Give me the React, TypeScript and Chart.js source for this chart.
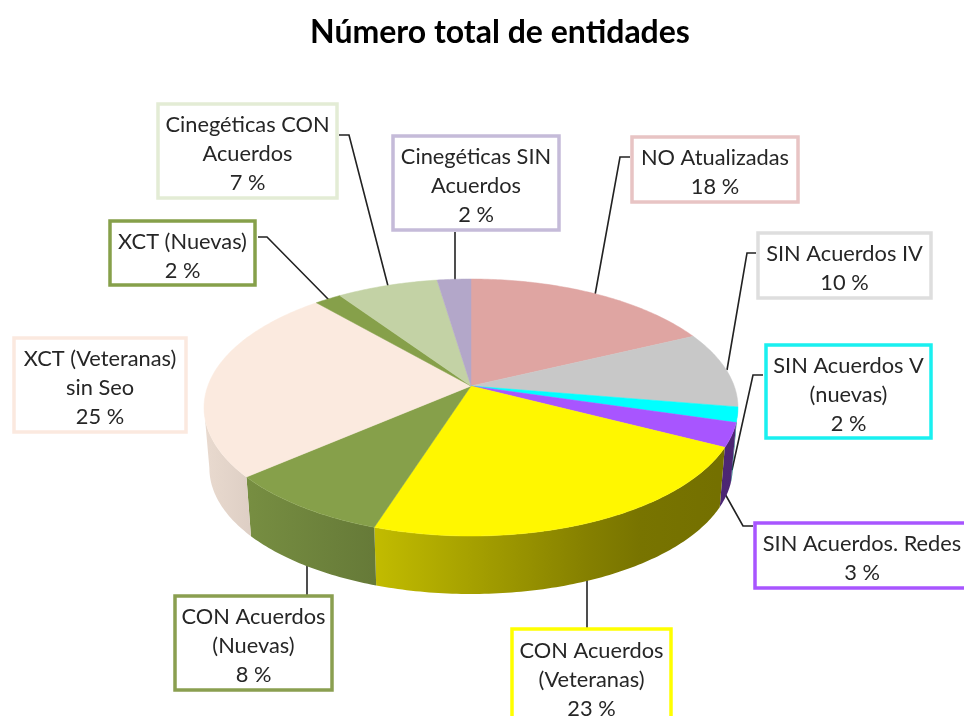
import { useEffect, useRef } from "react";
import { Chart, registerables } from "chart.js";

Chart.register(...registerables);

// ---- data ----
const titleText = "Número total de entidades";
const categories = [
  "NO Atualizadas",
  "SIN Acuerdos IV",
  "SIN Acuerdos V (nuevas)",
  "SIN Acuerdos. Redes",
  "CON Acuerdos (Veteranas)",
  "CON Acuerdos (Nuevas)",
  "XCT (Veteranas) sin Seo",
  "XCT (Nuevas)",
  "Cinegéticas CON Acuerdos",
  "Cinegéticas SIN Acuerdos",
];
const shares = [18, 9.6, 1.9, 3, 22.5, 8.75, 24.75, 1.9, 7.2, 2.4];
const percentLabels = ["18 %", "10 %", "2 %", "3 %", "23 %", "8 %", "25 %", "2 %", "7 %", "2 %"];
const labelLines = [
  ["NO Atualizadas"],
  ["SIN Acuerdos IV"],
  ["SIN Acuerdos V", "(nuevas)"],
  ["SIN Acuerdos. Redes"],
  ["CON Acuerdos", "(Veteranas)"],
  ["CON Acuerdos", "(Nuevas)"],
  ["XCT (Veteranas)", "sin Seo"],
  ["XCT (Nuevas)"],
  ["Cinegéticas CON", "Acuerdos"],
  ["Cinegéticas SIN", "Acuerdos"],
];

// ---- styles and layout ----
const faceColors = ["#dfa5a2", "#c8c8c8", "#00ffff", "#a855ff", "#fff700", "#86a04a", "#fbeadf", "#86a04a", "#c3d2a5", "#b3a7c9"];
const boxBorders = ["#e8c4c4", "#dedede", "#19f0f0", "#a855ff", "#ffff00", "#8a9f50", "#fbe9df", "#86a04a", "#e3ecd5", "#c5bbd9"];
// x, y, width, height
const boxRects = [
  [632, 137, 166, 65],
  [758, 233, 173, 65],
  [766, 345, 165, 93],
  [755, 523, 215, 65],
  [512, 629, 159, 96],
  [175, 596, 157, 94],
  [14, 338, 172, 94],
  [110, 221, 145, 64],
  [158, 104, 179, 94],
  [393, 136, 166, 94],
];
const leaders = [
  [[630, 157], [620, 157], [595, 295]],
  [[756, 253], [747, 253], [727, 370]],
  [[763, 375], [753, 375], [732, 470]],
  [[753, 526], [743, 526], [724, 492]],
  [[587, 578], [587, 628]],
  [[307, 560], [307, 595]],
  [[187, 0], [187, 0]],
  [[258, 237], [267, 237], [329, 300]],
  [[339, 135], [349, 135], [388, 286]],
  [[455, 232], [455, 281]],
];
const noLeader = 6;
const cx = 471;
const cy = 386;
const semiX = 263.2;
const semiY = 124.9;
const persp = 0.1674;
const wallDrop = 61;
const wallScale = 0.98;
const shadeStops = [
  [204, 0.93],
  [253, 0.88],
  [374, 0.76],
  [470, 0.65],
  [587, 0.52],
  [640, 0.47],
  [738, 0.45],
];

function topPoint(a: number) {
  const px = Math.cos(a);
  const py = Math.sin(a);
  const w = 1 - persp * py;
  return [cx + (semiX * px) / w, cy + (semiY * py) / w];
}
function bottomPoint(a: number) {
  const [x, y] = topPoint(a);
  return [cx + (x - cx) * wallScale, cy + wallDrop + (y - cy) * wallScale];
}
function arcSamples(a0: number, a1: number) {
  const n = Math.max(2, Math.ceil((a1 - a0) / 0.015));
  const out: number[] = [];
  for (let i = 0; i <= n; i++) out.push(a0 + ((a1 - a0) * i) / n);
  return out;
}
function shade(hex: string, f: number) {
  const v = parseInt(hex.slice(1), 16);
  const r = Math.round(((v >> 16) & 255) * f);
  const g = Math.round(((v >> 8) & 255) * f);
  const b = Math.round((v & 255) * f);
  return `rgb(${r},${g},${b})`;
}

const pie3d = {
  id: "pie3d",
  beforeDatasetsDraw(chart: any) {
    const ctx = chart.ctx as CanvasRenderingContext2D;
    const arcs = chart.getDatasetMeta(0).data;
    ctx.save();

    // leader lines
    ctx.strokeStyle = "#222222";
    ctx.lineWidth = 1.6;
    leaders.forEach((pts, i) => {
      if (i === noLeader) return;
      ctx.beginPath();
      pts.forEach((p, k) => (k ? ctx.lineTo(p[0], p[1]) : ctx.moveTo(p[0], p[1])));
      ctx.stroke();
    });

    // outer walls: only the part of each slice between the two silhouette tangents
    const frontStart = Math.asin(persp);
    const frontEnd = Math.PI - frontStart;
    arcs.forEach((arc: any, i: number) => {
      const a0 = Math.max(arc.startAngle, frontStart);
      const a1 = Math.min(arc.endAngle, frontEnd);
      if (a1 <= a0) return;
      const grad = ctx.createLinearGradient(204, 0, 738, 0);
      shadeStops.forEach(([x, f]) => grad.addColorStop((x - 204) / 534, shade(faceColors[i], f)));
      const s = arcSamples(a0, a1);
      ctx.beginPath();
      s.forEach((a, k) => {
        const p = topPoint(a);
        if (k) ctx.lineTo(p[0], p[1]);
        else ctx.moveTo(p[0], p[1]);
      });
      s.slice().reverse().forEach((a) => {
        const p = bottomPoint(a);
        ctx.lineTo(p[0], p[1]);
      });
      ctx.closePath();
      ctx.fillStyle = grad;
      ctx.fill();
    });

    // top faces
    arcs.forEach((arc: any, i: number) => {
      ctx.beginPath();
      ctx.moveTo(cx, cy);
      arcSamples(arc.startAngle, arc.endAngle).forEach((a) => {
        const p = topPoint(a);
        ctx.lineTo(p[0], p[1]);
      });
      ctx.closePath();
      ctx.fillStyle = faceColors[i];
      ctx.strokeStyle = faceColors[i];
      ctx.lineWidth = 0.5;
      ctx.fill();
      ctx.stroke();
    });

    // callout boxes
    categories.forEach((_, i) => {
      const [x, y, w, h] = boxRects[i];
      ctx.fillStyle = "#ffffff";
      ctx.fillRect(x, y, w, h);
      ctx.strokeStyle = boxBorders[i];
      ctx.lineWidth = 3.5;
      ctx.strokeRect(x, y, w, h);
      const lines = [...labelLines[i], percentLabels[i]];
      const lh = 29;
      const tx = i === 3 ? 862 : x + w / 2;
      const startY = y + h / 2 - ((lines.length - 1) * lh) / 2 + 3;
      ctx.font = '21.8px Lato, "Open Sans", sans-serif';
      ctx.fillStyle = "#262626";
      ctx.textAlign = "center";
      ctx.textBaseline = "middle";
      lines.forEach((t, k) => ctx.fillText(t, tx, startY + k * lh));
    });

    ctx.restore();
    return false;
  },
};

export default function App() {
  const ref = useRef<HTMLCanvasElement>(null);
  useEffect(() => {
    if (!ref.current) return;
    const chart = new Chart(ref.current, {
      type: "pie",
      data: {
        labels: categories,
        datasets: [{ data: shares, backgroundColor: faceColors, borderWidth: 0 }],
      },
      options: {
        animation: false,
        responsive: false,
        layout: { padding: { left: 36 } },
        plugins: {
          legend: { display: false },
          tooltip: { enabled: false },
          title: {
            display: true,
            text: titleText,
            color: "#000000",
            font: { family: 'Lato, "Open Sans", sans-serif', size: 32, weight: "bold" },
            padding: { top: 13, bottom: 10 },
          },
        },
      },
      plugins: [pie3d],
    } as any);
    return () => chart.destroy();
  }, []);
  return (
    <div style={{ position: "fixed", left: 0, top: 0, width: 964, height: 716, overflow: "hidden", background: "#fff" }}>
      <canvas ref={ref} width={964} height={716} style={{ display: "block", filter: "blur(0.4px)" }} />
    </div>
  );
}
